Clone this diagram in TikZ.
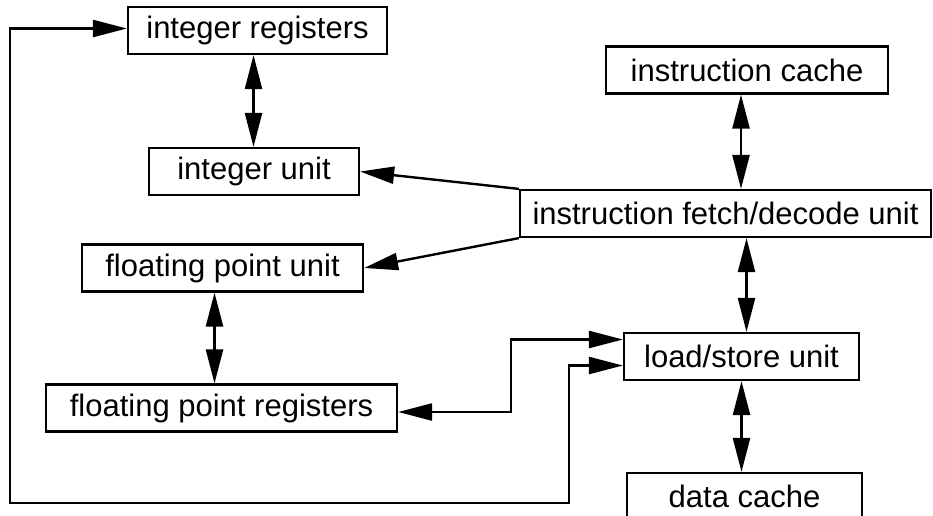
\documentclass[tikz,border=0pt]{standalone}
\usepackage{fontspec}
\setmainfont{Liberation Sans}
\usetikzlibrary{arrows.meta}
\tikzset{
  >={Triangle[length=34pt, width=17pt]},
  unit/.style={draw, line width=2.2pt, minimum height=47pt, inner sep=0pt,
    font=\fontsize{31}{36}\selectfont},
  flow/.style={->, line width=2.4pt},
  both/.style={<->, line width=2.4pt},
}

\begin{document}
\begin{tikzpicture}[x=1pt, y=-1pt]

  \useasboundingbox (0,0) rectangle (933,515);
  \clip (0,0) rectangle (933,515);

  % ---- Nodes -------------------------------------------------------------
  \node[unit, minimum width=259pt] (intreg) at (257.5,30.5)  {integer registers};
  \node[unit, minimum width=210pt] (intunit)at (254,171.5)   {integer unit};
  \node[unit, minimum width=282pt] (icache) at (747,70)      {instruction cache};
  \node[unit, minimum width=411pt] (ifetch) at (725.5,213.5) {instruction fetch/decode unit};
  \node[unit, minimum width=281pt] (fpu)    at (222.5,268)   {floating point unit};
  \node[unit, minimum width=351pt] (fpreg)  at (221.5,408)   {floating point registers};
  \node[unit, minimum width=235pt] (lsu)    at (741.5,356.5) {load/store unit};
  \node[unit, minimum width=235pt] (dcache) at (744.5,496.5) {data cache};

  \coordinate (loopcorner) at (569,503);

  % ---- Edges -------------------------------------------------------------
  % register files <-> their units
  \draw[both] ([xshift=-4pt]intreg.south) -- ([xshift=-4pt]intreg.south |- intunit.north);
  \draw[both] ([xshift=-8pt]fpu.south) -- ([xshift=-8pt]fpu.south |- fpreg.north);

  % caches <-> fetch and load/store
  \draw[both] ([xshift=-6pt]icache.south) -- ([xshift=-6pt]icache.south |- ifetch.north);
  \draw[both] ([xshift=5pt]lsu.north |- ifetch.south) -- ([xshift=5pt]lsu.north);
  \draw[both] (lsu.south) -- (lsu.south |- dcache.north);

  % fetch/decode issues to the execution units
  \draw[flow] (ifetch.north west) -- (intunit.east);
  \draw[flow] (ifetch.south west) -- (fpu.east);

  % load/store unit to both register files
  \draw[both] ([yshift=-4pt]fpreg.east) -- ++(113,0) |- ([yshift=17pt]lsu.west);
  \draw[both] ([yshift=2pt]intreg.west) -- ++(-117,0) |- (loopcorner)
    |- ([yshift=-9pt]lsu.west);

\end{tikzpicture}
\end{document}
